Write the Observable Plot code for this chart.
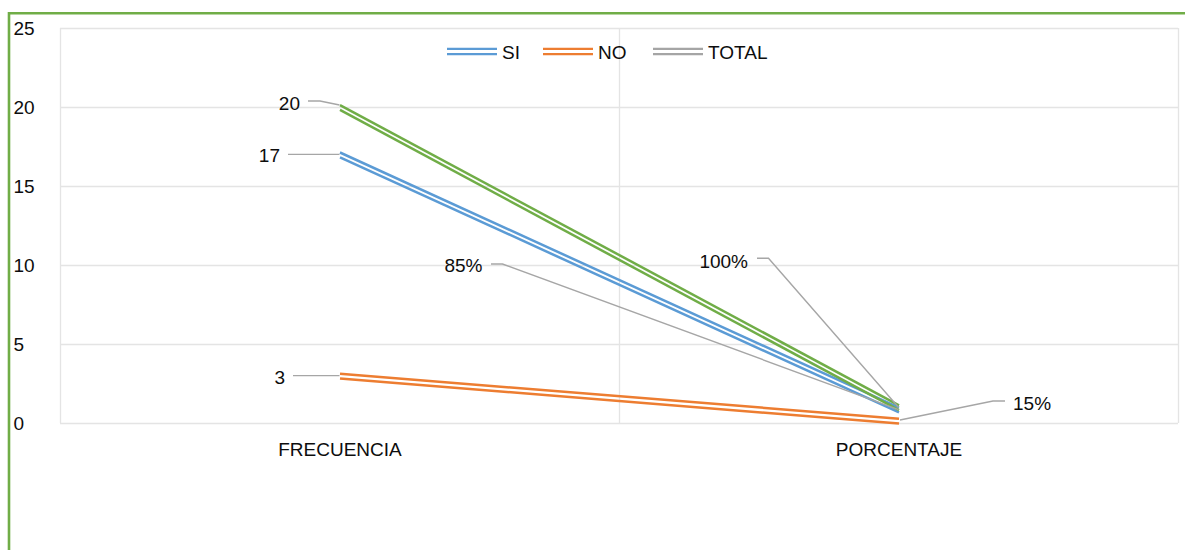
<!DOCTYPE html>
<html><head><meta charset="utf-8">
<script src="https://cdn.jsdelivr.net/npm/d3@7"></script>
<script src="https://cdn.jsdelivr.net/npm/@observablehq/plot@0.6"></script>
<style>
html,body{margin:0;padding:0;background:#fff;}
#chart{width:1185px;height:550px;overflow:hidden;position:relative;}
</style></head><body><div id="chart"></div>
<script>
// ---- data ----
const categories = ["FRECUENCIA", "PORCENTAJE"];
const seriesNames = ["SI", "NO", "TOTAL"];
const siValues = [17, 0.85];
const noValues = [3, 0.15];
const totalValues = [20, 1.00];
const yTicks = [0, 5, 10, 15, 20, 25];

// ---- styles ----
const FONT = "'Liberation Sans', Arial, sans-serif";
const FS = 19;
const TXT = "#0d0d0d";
const lineColors = {SI: "#5b9bd5", NO: "#ed7d31", TOTAL: "#70ad47"};
const legendColors = {SI: "#5b9bd5", NO: "#ed7d31", TOTAL: "#a5a5a5"};
const gridColor = "#e4e4e4";
const leaderColor = "#a6a6a6";

const valuesBySeries = {SI: siValues, NO: noValues, TOTAL: totalValues};
const rows = seriesNames.flatMap(s => categories.map((c, i) => ({
  series: s, cat: c, idx: i, value: valuesBySeries[s][i]
})));
const boundaries = d3.range(categories.length + 1);

const OFF = 2.4; // half-gap of compound double line
const lineMarks = seriesNames.flatMap(s => [-OFF, OFF].map(off =>
  Plot.line(rows.filter(r => r.series === s), {
    x: d => d.idx + 0.5, y: "value", stroke: lineColors[s],
    strokeWidth: 2.5, dy: off, strokeLinecap: "butt", strokeLinejoin: "round"
  })
));

const plot = Plot.plot({
  width: 1185, height: 550,
  marginLeft: 60, marginRight: 7, marginTop: 28, marginBottom: 127,
  x: {type: "linear", domain: [0, categories.length], axis: null},
  y: {domain: [0, 25], axis: null},
  style: {background: "#fff", fontFamily: FONT, color: TXT},
  marks: [
    Plot.ruleY(yTicks, {y: d => d, stroke: gridColor, strokeWidth: 1.3}),
    Plot.ruleX(boundaries, {x: d => d, stroke: gridColor, strokeWidth: 1.3}),
    Plot.text(yTicks, {y: d => d, text: d => String(d), frameAnchor: "left", dx: -47,
      textAnchor: "start", fontSize: FS, fill: TXT}),
    Plot.text(categories, {x: (d, i) => i + 0.5, text: d => d, frameAnchor: "bottom", dy: 32,
      fontSize: FS, fill: TXT}),
    ...lineMarks
  ]
});

document.getElementById("chart").appendChild(plot);
const svg = d3.select(plot);
const sx = plot.scale("x"), sy = plot.scale("y");

// ---- data labels with leader lines (offsets are layout only) ----
const fmtPct = d3.format(".0%");
const labelLayout = {
  "TOTAL|0": {tx: -39.5, ty: -4, anchor: "end", leader: [[-31.5, -6], [-19.5, -6], [0, -2]]},
  "SI|0":    {tx: -59.5, ty: 1.5, anchor: "end", leader: [[-51.5, 0], [0, 0]]},
  "NO|0":    {tx: -54.5, ty: 1.5, anchor: "end", leader: [[-46.5, 0], [0, 0]]},
  "SI|1":    {tx: -416, ty: -144.5, anchor: "end", leader: [[-407.5, -145.6], [-396, -145.6], [0, 0]]},
  "TOTAL|1": {tx: -150.5, ty: -146, anchor: "end", leader: [[-141.5, -149], [-130, -149], [0, 0]]},
  "NO|1":    {tx: 114.5, ty: -17.6, anchor: "start", leader: [[106.5, -19.6], [94.5, -19.6], [1.5, -0.6]]}
};
const gLead = svg.append("g");
const gLab = svg.append("g");
rows.forEach(r => {
  const L = labelLayout[r.series + "|" + r.idx];
  if (!L) return;
  const ax = sx.apply(r.idx + 0.5), ay = sy.apply(r.value);
  gLead.append("path")
    .attr("d", d3.line()(L.leader.map(([dx, dy]) => [ax + dx, ay + dy])))
    .attr("fill", "none").attr("stroke", leaderColor).attr("stroke-width", 1.4);
  gLab.append("text")
    .attr("x", ax + L.tx).attr("y", ay + L.ty)
    .attr("text-anchor", L.anchor).attr("dominant-baseline", "central")
    .attr("font-family", FONT).attr("font-size", FS).attr("fill", TXT)
    .text(r.idx === 1 ? fmtPct(r.value) : String(r.value));
});

// ---- legend ----
const legendX = [447, 543, 653];
const legendY = 52;
const gLeg = svg.append("g");
seriesNames.forEach((s, i) => {
  const x0 = legendX[i];
  [-2.6, 2.6].forEach(o => gLeg.append("line")
    .attr("x1", x0).attr("x2", x0 + 50).attr("y1", legendY + o - 0.5).attr("y2", legendY + o - 0.5)
    .attr("stroke", legendColors[s]).attr("stroke-width", 2.4));
  gLeg.append("text").attr("x", x0 + 55).attr("y", legendY)
    .attr("text-anchor", "start")
    .attr("dominant-baseline", "central").attr("font-family", FONT).attr("font-size", FS)
    .attr("fill", TXT).text(s);
});

// ---- chart-area border (green, top + left) ----
svg.append("path").attr("d", "M9,552V13.3H1187")
  .attr("fill", "none").attr("stroke", "#70ad47").attr("stroke-width", 2.6);
</script></body></html>
